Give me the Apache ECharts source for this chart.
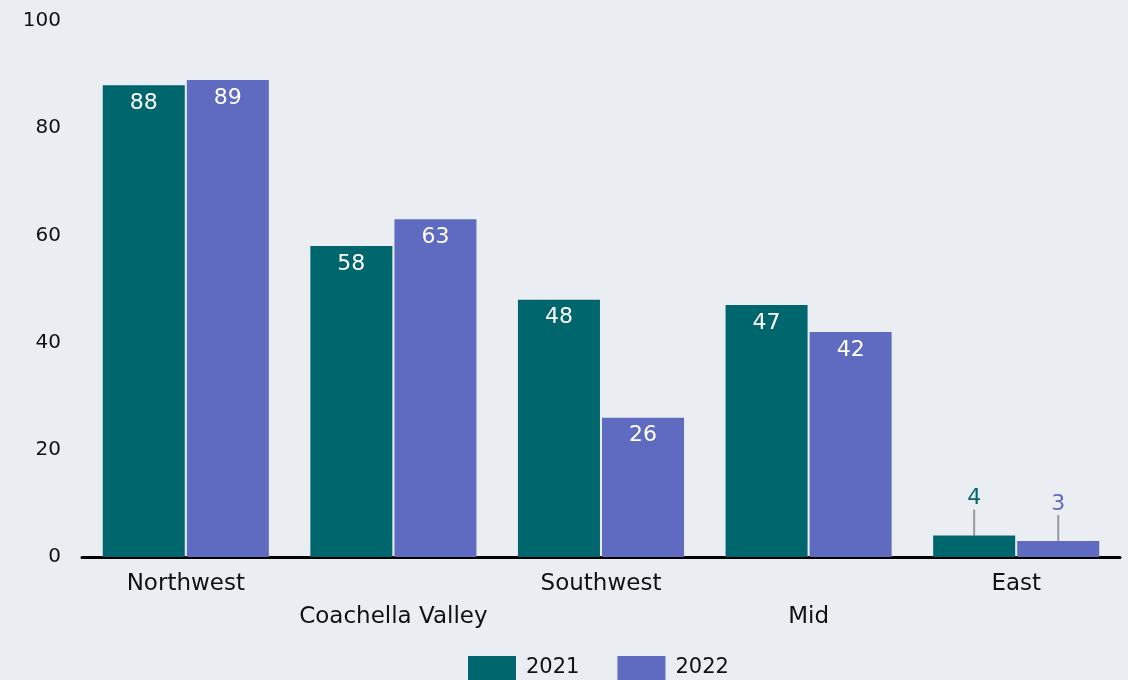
<!DOCTYPE html>
<html>
<head>
<meta charset="utf-8">
<script src="https://cdn.jsdelivr.net/npm/echarts@6/dist/echarts.min.js"></script>
<style>
  html, body { margin: 0; padding: 0; background: #eaeef2; }
  #main { width: 1128px; height: 680px; }
</style>
</head>
<body>
<div id="main"></div>
<script>
var regions = ['Northwest', 'Coachella Valley', 'Southwest', 'Mid', 'East'];
var values2021 = [88, 58, 48, 47, 4];
var values2022 = [89, 63, 26, 42, 3];
var seriesNames = ['2021', '2022'];
var colors = ['#00666e', '#5e6bc0'];

// small values get an outside label with a leader line
function buildData(values, color) {
  return values.map(function (v) {
    if (v >= 10) return v;
    return {
      value: v,
      label: { position: 'top', distance: 4, color: color },
      labelLine: { show: true, lineStyle: { color: '#999', width: 2 } }
    };
  });
}

var font = '"DejaVu Sans", "Noto Sans", sans-serif';
var chart = echarts.init(document.getElementById('main'));

var option = {
  backgroundColor: '#eaeef2',
  textStyle: { fontFamily: font },
  grid: { left: 82, right: 8, top: 21, bottom: 123, containLabel: false },
  legend: {
    top: 651,
    left: 463,
    itemWidth: 48,
    itemHeight: 24,
    itemGap: 38,
    icon: 'rect',
    textStyle: { fontSize: 21, color: '#111', fontFamily: font, padding: [0, 0, 0, 5] }
  },
  xAxis: {
    type: 'category',
    data: regions,
    axisLine: { lineStyle: { color: '#000', width: 3 } },
    axisTick: { show: false },
    axisLabel: {
      interval: 0,
      fontSize: 23,
      color: '#111',
      margin: 11,
      lineHeight: 33,
      formatter: function (v, i) { return i % 2 ? '\n' + v : v; }
    }
  },
  yAxis: {
    type: 'value',
    min: 0,
    max: 100,
    interval: 20,
    splitLine: { show: false },
    axisLine: { show: false },
    axisTick: { show: false },
    axisLabel: { fontSize: 20, color: '#111', margin: 21 }
  },
  series: seriesNames.map(function (name, k) {
    var vals = k === 0 ? values2021 : values2022;
    return {
      name: name,
      type: 'bar',
      data: buildData(vals, colors[k]),
      itemStyle: { color: colors[k] },
      barGap: '2.5%',
      barCategoryGap: '20%',
      label: {
        show: true,
        position: 'insideTop',
        distance: 7,
        color: '#fff',
        fontSize: 22,
        fontFamily: font
      },
      labelLayout: function (p) {
        if (vals[p.dataIndex] < 10) return { dy: -22 };
        return {};
      }
    };
  })
};

chart.setOption(option);
</script>
</body>
</html>
